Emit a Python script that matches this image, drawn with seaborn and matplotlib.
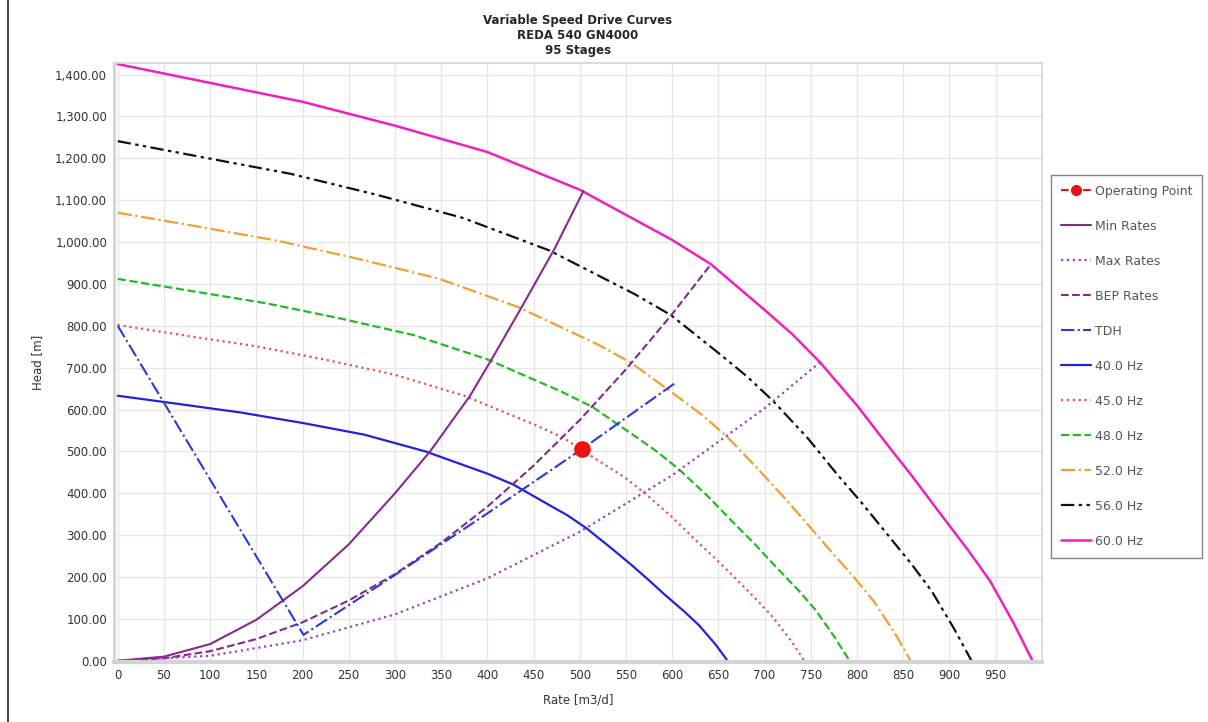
import matplotlib
matplotlib.use("Agg")
from matplotlib import pyplot as plt
from matplotlib.lines import Line2D
import seaborn as sns

# Speed curves (rate m3/d, head m)
rate_40 = [0, 67, 133, 200, 267, 333, 400, 428, 467, 487, 507, 533, 557, 573, 593, 613, 629, 647, 660]
head_40 = [633, 613, 593, 568, 540, 500, 447, 421, 372, 347, 317, 271, 227, 196, 156, 118, 85, 39, 0]
rate_45 = [0, 75, 150, 225, 300, 375, 450, 482, 525, 548, 570, 600, 626, 645, 668, 690, 708, 728, 743]
head_45 = [802, 776, 751, 719, 683, 633, 565, 533, 471, 439, 401, 343, 287, 248, 198, 149, 107, 50, 0]
rate_48 = [0, 80, 160, 240, 320, 400, 480, 514, 560, 584, 608, 640, 668, 688, 712, 736, 755, 776, 792]
head_48 = [912, 883, 854, 818, 778, 720, 643, 606, 536, 499, 456, 390, 326, 282, 225, 170, 122, 56, 0]
rate_52 = [0, 87, 173, 260, 347, 433, 520, 556, 607, 633, 659, 693, 724, 745, 771, 797, 818, 841, 858]
head_52 = [1070, 1037, 1003, 960, 913, 845, 755, 711, 629, 586, 536, 458, 383, 330, 264, 199, 143, 66, 0]
rate_56 = [0, 93, 187, 280, 373, 467, 560, 599, 653, 681, 709, 747, 779, 803, 831, 859, 881, 905, 924]
head_56 = [1241, 1202, 1163, 1113, 1058, 980, 875, 825, 730, 679, 621, 531, 444, 383, 307, 231, 166, 77, 0]
rate_60 = [0, 100, 200, 300, 400, 500, 600, 642, 700, 730, 760, 800, 835, 860, 890, 920, 944, 970, 990]
head_60 = [1425, 1380, 1335, 1278, 1215, 1125, 1005, 947, 838, 780, 713, 610, 510, 440, 352, 265, 191, 88, 0]

# operating envelope
min_rate = [0, 50, 100, 150, 200, 250, 300, 338, 381, 406, 438, 473, 504]
min_head = [0, 10, 40, 98, 178, 278, 400, 500, 632, 725, 848, 985, 1122]
max_rate = [0, 100, 200, 300, 400, 500, 600, 700, 760]
max_head = [0, 12, 49, 111, 197, 308, 443, 603, 713]
bep_rate = [0, 50, 100, 150, 200, 250, 300, 350, 400, 450, 500, 550, 600, 642]
bep_head = [0, 6, 23, 52, 92, 144, 207, 282, 368, 466, 575, 696, 828, 947]
tdh_rate = [0, 201, 300, 400, 502, 603]
tdh_head = [800, 62, 205, 352, 505, 663]
op_rate = [502]
op_head = [505]

x_ticks = list(range(0, 1000, 50))
y_ticks = list(range(0, 1500, 100))

sns.set_theme(style="whitegrid")
plt.rcParams['font.family'] = ['DejaVu Sans']

fig = plt.figure(figsize=(12.08, 7.22), dpi=100)
ax = fig.add_axes([0.0944, 0.083, 0.768, 0.83])

dashdotdot = (0, (6, 2, 1.5, 2, 1.5, 2))
series = [
    ("40.0 Hz", rate_40, head_40, "#2222dd", "-", 1.6),
    ("45.0 Hz", rate_45, head_45, "#e8505a", ":", 1.6),
    ("48.0 Hz", rate_48, head_48, "#22bb22", "--", 1.6),
    ("52.0 Hz", rate_52, head_52, "#f0a030", "-.", 1.6),
    ("56.0 Hz", rate_56, head_56, "#111111", dashdotdot, 1.6),
    ("60.0 Hz", rate_60, head_60, "#f020c0", "-", 1.8),
    ("Min Rates", min_rate, min_head, "#862a92", "-", 1.5),
    ("Max Rates", max_rate, max_head, "#a040b8", ":", 1.6),
    ("BEP Rates", bep_rate, bep_head, "#84288e", "--", 1.5),
    ("TDH", tdh_rate, tdh_head, "#2a3ad8", "-.", 1.5),
]
styles = {}
for name, xs, ys, col, ls, lw in series:
    sns.lineplot(x=xs, y=ys, ax=ax, color=col, linestyle=ls, linewidth=lw,
                 sort=False, estimator=None)
    styles[name] = (col, ls, lw)

ax.plot(op_rate, op_head, 'o', color='#ee1111', markersize=11, zorder=5)

ax.set_xlim(-4, 1000)
ax.set_ylim(-3, 1428)
ax.set_xticks(x_ticks)
ax.set_yticks(y_ticks)
ax.set_xticklabels([str(v) for v in x_ticks])
ax.set_yticklabels([f"{v:,.2f}" for v in y_ticks])
ax.tick_params(length=0, labelsize=8.5, colors='#333333', pad=5)
ax.grid(True, color='#e6e6e6', linewidth=0.9)
for s in ax.spines.values():
    s.set_color('#d4d4d4')
    s.set_linewidth(1.2)
ax.spines['bottom'].set_linewidth(3)
ax.spines['left'].set_linewidth(2)

ax.set_xlabel('Rate [m3/d]', fontsize=8.5, color='#333333', labelpad=8)
ax.set_ylabel('Head [m]', fontsize=8.5, color='#333333', labelpad=8)
ax.set_title('Variable Speed Drive Curves\nREDA 540 GN4000\n95 Stages',
             fontsize=8.5, fontweight='bold', pad=6, linespacing=1.2)

# legend in the chart's order
order = ["Min Rates", "Max Rates", "BEP Rates", "TDH", "40.0 Hz", "45.0 Hz",
         "48.0 Hz", "52.0 Hz", "56.0 Hz", "60.0 Hz"]
handles = [Line2D([], [], color='#ee1111', linestyle='--', marker='o', markersize=7)]
labels = ["Operating Point"]
for name in order:
    col, ls, lw = styles[name]
    handles.append(Line2D([], [], color=col, linestyle=ls, linewidth=lw))
    labels.append(name)
leg = fig.legend(handles, labels, loc='upper left', bbox_to_anchor=(0.870, 0.758),
                 fontsize=9, labelspacing=1.76, handlelength=2.4, handletextpad=0.3,
                 borderpad=0.8, fancybox=False, frameon=True, borderaxespad=0)
leg.get_frame().set_edgecolor('#666666')
leg.get_frame().set_linewidth(1.0)
for t in leg.get_texts():
    t.set_color('#555555')

# screenshot frame edge on the far left
fig.add_artist(Line2D([0.0066, 0.0066], [0, 1], color='#222222', linewidth=1.2))

fig.savefig('out.png', dpi=100, facecolor='white')
